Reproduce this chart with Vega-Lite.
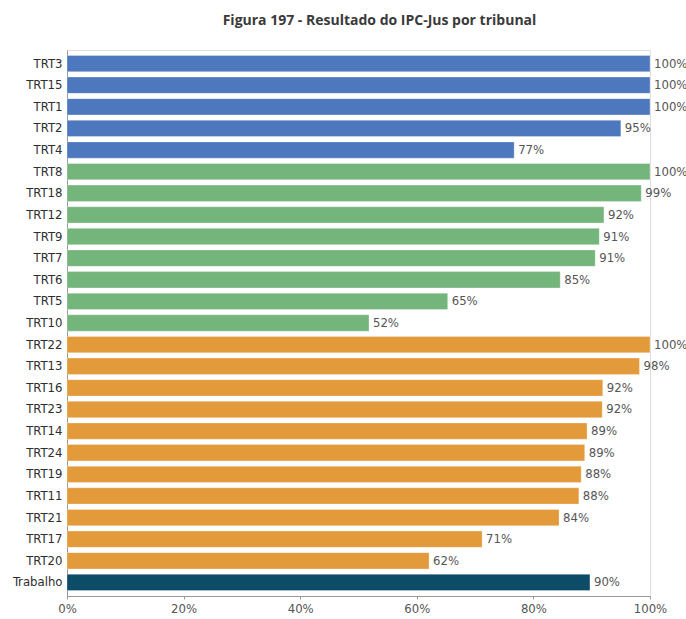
{
  "$schema": "https://vega.github.io/schema/vega-lite/v6.json",
  "autosize": {"type": "none"},
  "padding": {"left": 67, "top": 50, "right": 36, "bottom": 23},
  "width": 583,
  "height": 546,
  "background": "white",
  "title": {
    "text": "Figura 197 - Resultado do IPC-Jus por tribunal",
    "font": "Open Sans",
    "fontSize": 14,
    "fontWeight": "bold",
    "color": "#3a3a3a",
    "anchor": "middle",
    "dx": 21,
    "offset": 22
  },
  "data": {
    "values": [
      {"tribunal": "TRT3", "valor": 1.0, "grupo": "A"},
      {"tribunal": "TRT15", "valor": 1.0, "grupo": "A"},
      {"tribunal": "TRT1", "valor": 1.0, "grupo": "A"},
      {"tribunal": "TRT2", "valor": 0.950, "grupo": "A"},
      {"tribunal": "TRT4", "valor": 0.767, "grupo": "A"},
      {"tribunal": "TRT8", "valor": 1.0, "grupo": "B"},
      {"tribunal": "TRT18", "valor": 0.985, "grupo": "B"},
      {"tribunal": "TRT12", "valor": 0.921, "grupo": "B"},
      {"tribunal": "TRT9", "valor": 0.913, "grupo": "B"},
      {"tribunal": "TRT7", "valor": 0.906, "grupo": "B"},
      {"tribunal": "TRT6", "valor": 0.846, "grupo": "B"},
      {"tribunal": "TRT5", "valor": 0.653, "grupo": "B"},
      {"tribunal": "TRT10", "valor": 0.518, "grupo": "B"},
      {"tribunal": "TRT22", "valor": 1.0, "grupo": "C"},
      {"tribunal": "TRT13", "valor": 0.982, "grupo": "C"},
      {"tribunal": "TRT16", "valor": 0.919, "grupo": "C"},
      {"tribunal": "TRT23", "valor": 0.918, "grupo": "C"},
      {"tribunal": "TRT14", "valor": 0.892, "grupo": "C"},
      {"tribunal": "TRT24", "valor": 0.888, "grupo": "C"},
      {"tribunal": "TRT19", "valor": 0.882, "grupo": "C"},
      {"tribunal": "TRT11", "valor": 0.878, "grupo": "C"},
      {"tribunal": "TRT21", "valor": 0.844, "grupo": "C"},
      {"tribunal": "TRT17", "valor": 0.712, "grupo": "C"},
      {"tribunal": "TRT20", "valor": 0.621, "grupo": "C"},
      {"tribunal": "Trabalho", "valor": 0.897, "grupo": "D"}
    ]
  },
  "encoding": {
    "y": {
      "field": "tribunal",
      "type": "nominal",
      "sort": null,
      "scale": {"paddingInner": 0.245, "paddingOuter": 0.25},
      "axis": {
        "title": null,
        "ticks": false,
        "domainColor": "#999999",
        "domainWidth": 1,
        "labelPadding": 5,
        "labelFont": "DejaVu Sans Condensed",
        "labelFontSize": 13,
        "labelFontWeight": 500,
        "labelColor": "#2e2e2e"
      }
    },
    "x": {
      "field": "valor",
      "type": "quantitative",
      "scale": {"domain": [0, 1]},
      "axis": {
        "title": null,
        "format": ".0%",
        "values": [0, 0.2, 0.4, 0.6, 0.8, 1],
        "grid": false,
        "domainColor": "#999999",
        "tickColor": "#999999",
        "tickSize": 3,
        "labelFont": "DejaVu Sans Condensed",
        "labelFontSize": 13,
        "labelColor": "#555555",
        "labelPadding": 3,
        "labelFlush": false,
        "labelDx": 3
      }
    }
  },
  "layer": [
    {
      "mark": {"type": "bar", "stroke": "#ffffff", "strokeOpacity": 0.5, "strokeWidth": 0.6},
      "encoding": {
        "color": {
          "field": "grupo",
          "type": "nominal",
          "legend": null,
          "scale": {"domain": ["A", "B", "C", "D"], "range": ["#4e78be", "#74b57b", "#e29a3a", "#0c4c66"]}
        }
      }
    },
    {
      "mark": {"type": "text", "align": "left", "baseline": "middle", "dx": 4, "font": "DejaVu Sans Condensed", "fontSize": 13, "color": "#555555"},
      "encoding": {
        "text": {"field": "valor", "type": "quantitative", "format": ".0%"}
      }
    }
  ]
}
